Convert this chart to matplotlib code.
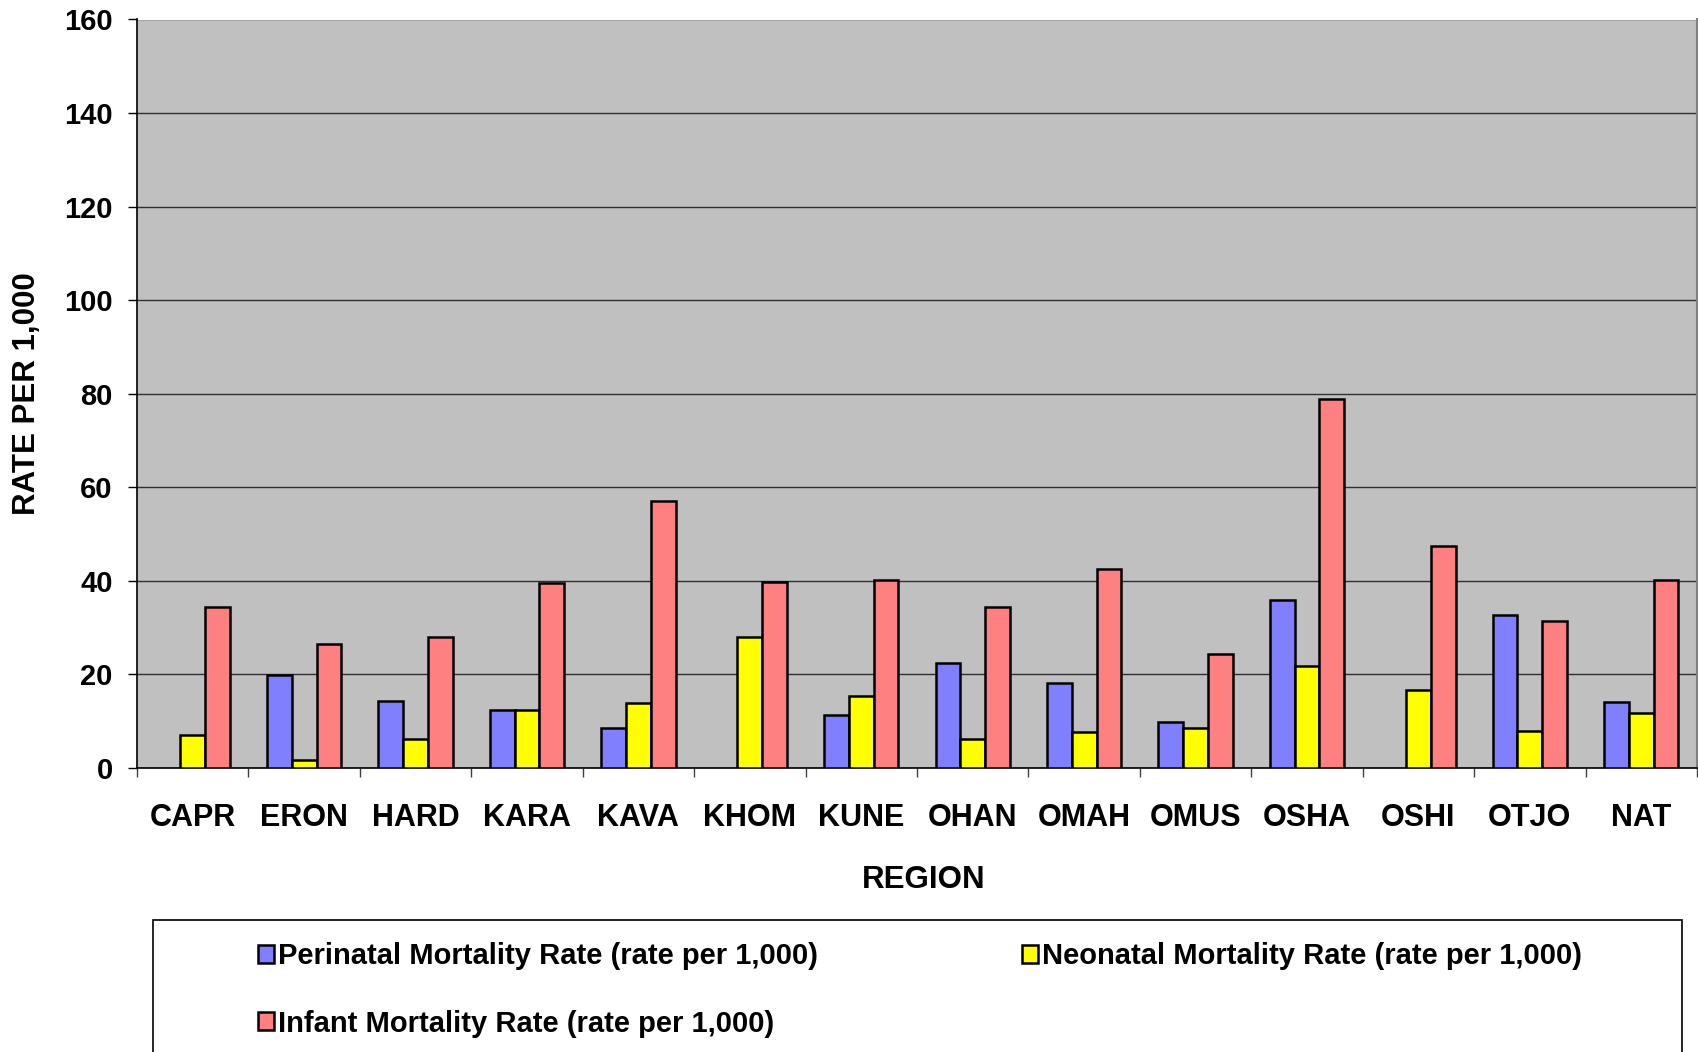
import numpy as np
import matplotlib
matplotlib.use("Agg")
import matplotlib.pyplot as plt
from matplotlib.patches import Patch, Rectangle

plt.rcParams['font.family'] = ['Liberation Sans', 'DejaVu Sans']
plt.rcParams['font.weight'] = 'bold'

categories = ['CAPR', 'ERON', 'HARD', 'KARA', 'KAVA', 'KHOM', 'KUNE',
              'OHAN', 'OMAH', 'OMUS', 'OSHA', 'OSHI', 'OTJO', 'NAT']
perinatal = [np.nan, 19.8, 14.3, 12.3, 8.6, np.nan, 11.3, 22.4, 18.2, 9.9, 36.0, np.nan, 32.8, 14.2]
neonatal = [7.1, 1.7, 6.3, 12.4, 13.8, 28.0, 15.3, 6.3, 7.6, 8.6, 21.8, 16.6, 8.0, 11.7]
infant = [34.4, 26.4, 27.9, 39.6, 57.0, 39.8, 40.2, 34.4, 42.5, 24.4, 78.8, 47.5, 31.4, 40.1]
series_names = ['Perinatal Mortality Rate (rate per 1,000)',
                'Neonatal Mortality Rate (rate per 1,000)',
                'Infant Mortality Rate (rate per 1,000)']
colors = ['#8080FF', '#FFFF00', '#FF8080']
yticks = [0, 20, 40, 60, 80, 100, 120, 140, 160]

W, H = 1699, 1052
fig = plt.figure(figsize=(W / 100, H / 100), dpi=100)
fig.patch.set_facecolor('white')
ax = fig.add_axes([137 / W, 1 - 768 / H, (1697 - 137) / W, (768 - 19.5) / H])
ax.set_facecolor('#C0C0C0')

x = np.arange(len(categories))
bw = 0.222
for i, (vals, c) in enumerate(zip([perinatal, neonatal, infant], colors)):
    ax.bar(x + (i - 1) * bw, vals, width=bw, color=c, edgecolor='black',
           linewidth=1.8, zorder=3)

ax.set_xlim(-0.5, len(categories) - 0.5)
ax.set_ylim(0, 160)
ax.set_yticks(yticks)
ax.set_yticklabels([str(v) for v in yticks])
ax.yaxis.grid(True, color='#303030', linewidth=1.0, zorder=1)
ax.set_axisbelow(True)

ax.set_xticks(x)
ax.set_xticklabels(categories)
ax.set_xticks(np.arange(-0.5, len(categories), 1.0), minor=True)
ax.tick_params(axis='x', which='major', length=0, pad=25.5, labelsize=22)
ax.tick_params(axis='x', which='minor', length=6.5, width=1, color='#404040')
ax.tick_params(axis='y', which='major', length=6.5, width=1, pad=11, labelsize=21)

for s in ['left', 'bottom']:
    ax.spines[s].set_color('black')
    ax.spines[s].set_linewidth(1.2)
ax.spines['top'].set_visible(False)
ax.spines['right'].set_color('#808080')
ax.spines['right'].set_linewidth(1.5)

fig.text(27 / W, 1 - 394 / H, 'RATE PER 1,000', rotation=90, ha='center', va='center',
         fontsize=22.5, fontweight='bold')
fig.text(924 / W, 1 - 880 / H, 'REGION', ha='center', va='center',
         fontsize=22.5, fontweight='bold')

# legend frame
fig.patches.append(Rectangle((153 / W, -0.05), (1682 - 153) / W, (1 - 920 / H) + 0.05,
                             transform=fig.transFigure, facecolor='white',
                             edgecolor='black', linewidth=1.2, zorder=0))

positions = [(258, 956.5), (1022, 956.5), (258, 1023.5)]
for name, c, (px, py) in zip(series_names, colors, positions):
    fig.legend(handles=[Patch(facecolor=c, edgecolor='black', linewidth=1.8)],
               labels=[name], loc='center left',
               bbox_to_anchor=(px / W, 1 - py / H), frameon=False,
               handlelength=0.55, handleheight=0.55,
               handletextpad=0.15, borderpad=0, borderaxespad=0,
               prop={'weight': 'bold', 'size': 21})

fig.savefig('out.png', dpi=100, facecolor='white')
